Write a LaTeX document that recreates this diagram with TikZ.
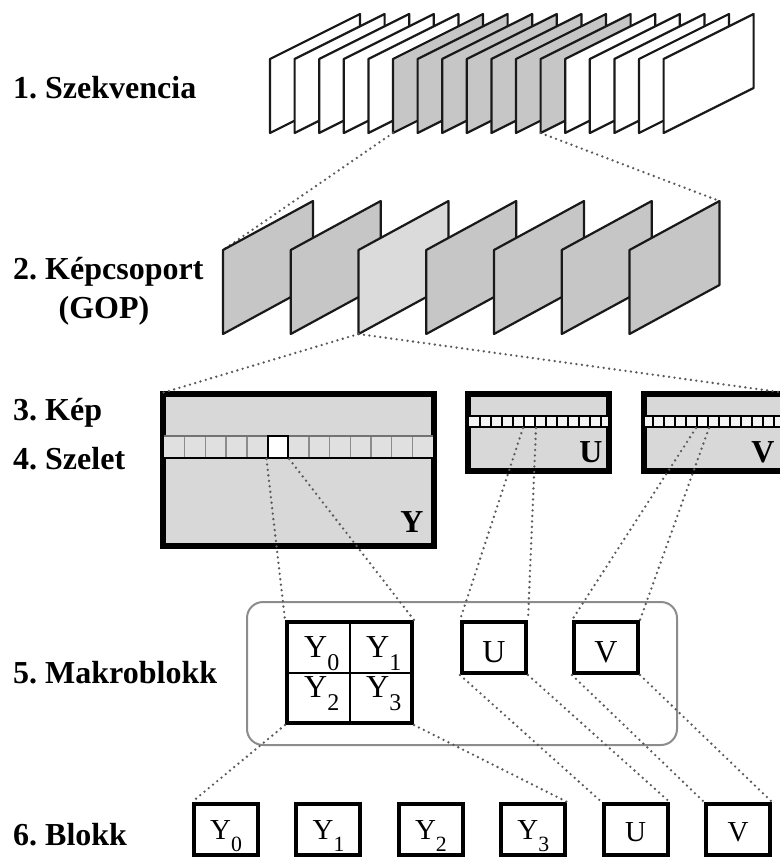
\documentclass[tikz,border=0pt]{standalone}
\usepackage{fontspec}
\setmainfont{Liberation Serif}
\frenchspacing
\definecolor{framegray}{HTML}{C6C6C6}
\definecolor{gopgray}{HTML}{DBDBDB}
\definecolor{planegray}{HTML}{D8D8D8}
\definecolor{dotgray}{HTML}{5A5A5A}
\newcommand{\Ysub}[1]{Y\raisebox{-0.42em}{\scalebox{0.75}{#1}}}

\begin{document}
\begin{tikzpicture}[x=1pt, y=-1pt,
  level/.style={anchor=base west, inner sep=0pt, font=\fontsize{32}{38}\selectfont\bfseries},
  picframe/.style={draw=black!90, line width=2.2pt, line join=round},
  zoomline/.style={dotgray, line width=2.6pt, line cap=round, dash pattern=on 0pt off 5.5pt},
  plane/.style={draw, line width=4pt, fill=planegray, inner sep=0pt},
  blk/.style={draw, line width=4pt, fill=white, inner sep=0pt},
  cell/.style={draw, line width=2pt, fill=white, inner sep=0pt},
  sym/.style={inner sep=0pt, font=\fontsize{32}{32}\selectfont},
  bsym/.style={inner sep=0pt, font=\fontsize{32}{32}\selectfont\bfseries},
  ssym/.style={inner sep=0pt, font=\fontsize{29}{29}\selectfont}]

  \useasboundingbox (0,0) rectangle (779,859);

  % Labels
  \node[level] (l1) at (13,98) {1. Szekvencia};
  \node[level] (l2) at (13,279) {2. Képcsoport};
  \node[level, anchor=base] (l2b) at (104,318) {(GOP)};
  \node[level] (l3) at (13,420) {3. Kép};
  \node[level] (l4) at (13,469) {4. Szelet};
  \node[level] (l5) at (13,683) {5. Makroblokk};
  \node[level] (l6) at (13,845) {6. Blokk};

  % Sequence
  \foreach \i in {0,...,16} {
    \pgfmathsetmacro{\fx}{270+24.6*\i}
    \def\fc{white}
    \ifnum\i>4 \ifnum\i<12 \def\fc{framegray}\fi\fi
    \coordinate (s\i) at (\fx,133);
    \draw[picframe, fill=\fc] (s\i) -- ++(0,-74) -- ++(90,-45) -- ++(0,74) -- cycle;
  }

  % GOP
  \foreach \i in {0,...,6} {
    \pgfmathsetmacro{\gx}{223+67.75*\i}
    \coordinate (g\i) at (\gx,334);
    \coordinate (gt\i) at (\gx,250);
    \coordinate (gr\i) at (\gx+90,201);
  }
  \draw[zoomline] (s5) -- (gt0);
  \draw[zoomline] (s11) -- (gr6);
  \foreach \i in {0,...,6} {
    \ifnum\i=2 \def\gc{gopgray}\else\def\gc{framegray}\fi
    \draw[picframe, fill=\gc] (g\i) -- (gt\i) -- (gr\i) -- ++(0,84) -- cycle;
  }

  % Picture: Y plane
  \node[plane, minimum width=269pt, minimum height=150pt] (Ybox) at (298.5,470) {};
  \fill[planegray!80!white] (164,436) rectangle (433,458);
  \foreach \k in {1,...,12}
    \draw[black!45, line width=1.5pt] ({164+20.7*\k},436) -- ++(0,22);
  \draw[black!55, line width=2pt] (164,436) -- (433,436);
  \draw[line width=2pt] (164,458) -- (433,458);
  \node[cell, minimum width=20.7pt, minimum height=22pt] (ycell) at (277.85,447) {};
  \draw[line width=4pt] (Ybox.north west) rectangle (Ybox.south east);
  \node[bsym, anchor=base] (ylab) at (412,532) {Y};

  % U plane
  \node[plane, minimum width=139pt, minimum height=75pt] (Ubox) at (538.5,432.5) {};
  \fill[planegray!25!white] (469,416) rectangle (608,427);
  \foreach \k in {1,...,12}
    \draw[line width=1.5pt] ({469+11*\k},416) -- ++(0,11);
  \draw[line width=2pt] (469,416) -- (608,416) (469,427) -- (608,427);
  \node[cell, minimum width=11pt, minimum height=11pt] (ucell) at (529.5,421.5) {};
  \draw[line width=4pt] (Ubox.north west) rectangle (Ubox.south east);
  \node[bsym, anchor=base] (ulab) at (591,462) {U};

  % V plane
  \node[plane, minimum width=139pt, minimum height=75pt] (Vbox) at (714.5,432.5) {};
  \fill[planegray!25!white] (645,416) rectangle (784,427);
  \foreach \k in {0,...,11}
    \draw[line width=1.5pt] ({653+11*\k},416) -- ++(0,11);
  \draw[line width=2pt] (645,416) -- (784,416) (645,427) -- (784,427);
  \node[cell, minimum width=11pt, minimum height=11pt] (vcell) at (702.5,421.5) {};
  \draw[line width=4pt] (Vbox.north west) rectangle (Vbox.south east);
  \node[bsym, anchor=base] (vlab) at (763,462) {V};

  % Macroblock
  \node[draw=black!45, line width=2pt, rounded corners=16pt, minimum width=430pt, minimum height=143pt] (mb) at (462,673.5) {};
  \node[blk, minimum width=125pt, minimum height=101pt] (Ymb) at (349.5,672.5) {};
  \draw[line width=2pt] (Ymb.north) -- (Ymb.south) (Ymb.west) -- (Ymb.east);
  \node[blk, minimum width=64pt, minimum height=51pt] (Umb) at (494,647.5) {};
  \node[blk, minimum width=64pt, minimum height=51pt] (Vmb) at (606,647.5) {};
  \node[sym, anchor=base west] (my0) at (304,657) {\Ysub{0}};
  \node[sym, anchor=base west] (my1) at (366,657) {\Ysub{1}};
  \node[sym, anchor=base west] (my2) at (304,697) {\Ysub{2}};
  \node[sym, anchor=base west] (my3) at (366,697) {\Ysub{3}};
  \node[sym, anchor=base] (mu) at (494,662) {U};
  \node[sym, anchor=base] (mv) at (606,662) {V};

  % Blocks
  \foreach \i/\n in {0/blk0,1/blk1,2/blk2,3/blk3,4/blkU,5/blkV}
    \node[blk, minimum width=64pt, minimum height=51pt] (\n) at ({226+102.4*\i},829.5) {};
  \foreach \i in {0,...,3}
    \node[ssym, anchor=base west] (by\i) at ({210+102.4*\i},839) {\Ysub{\i}};
  \node[ssym, anchor=base] (bu) at (blkU |- 0,841) {U};
  \node[ssym, anchor=base] (bv) at (blkV |- 0,841) {V};

  % Zoom lines
  \draw[zoomline] (g2) -- (Ybox.north west);
  \draw[zoomline] (g2) -- (Vbox.north east);
  \draw[zoomline] (ycell.south west) -- (Ymb.north west);
  \draw[zoomline] (ycell.south east) -- (Ymb.north east);
  \draw[zoomline] (ucell.south west) -- (Umb.north west);
  \draw[zoomline] (ucell.south east) -- (Umb.north east);
  \draw[zoomline] (vcell.south west) -- (Vmb.north west);
  \draw[zoomline] (vcell.south east) -- (Vmb.north east);
  \draw[zoomline] (Ymb.south west) -- (blk0.north west);
  \draw[zoomline] (Ymb.south east) -- (blk3.north east);
  \draw[zoomline] (Umb.south west) -- (blkU.north west);
  \draw[zoomline] (Umb.south east) -- (blkU.north east);
  \draw[zoomline] (Vmb.south west) -- (blkV.north west);
  \draw[zoomline] (Vmb.south east) -- (blkV.north east);
\end{tikzpicture}
\end{document}
